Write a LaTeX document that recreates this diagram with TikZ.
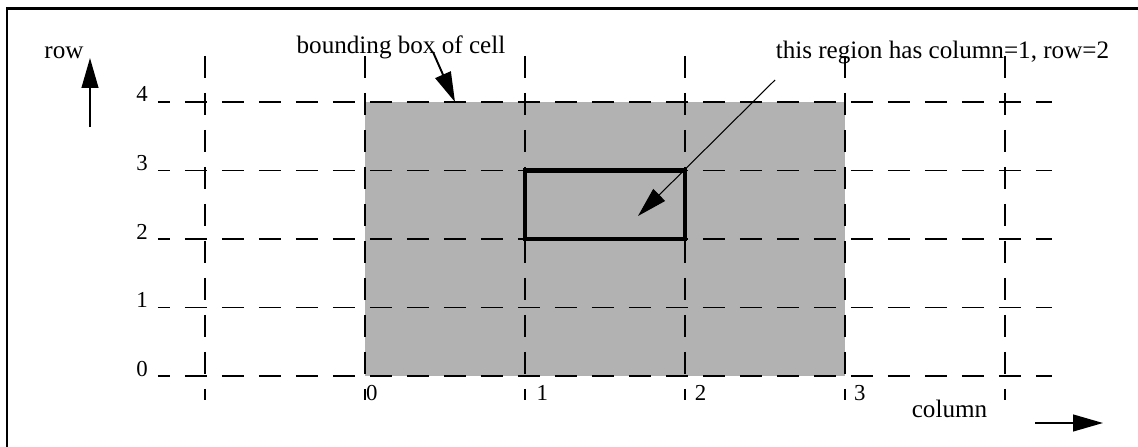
\documentclass[tikz,border=0pt]{standalone}
\usepackage{fontspec}
\setmainfont{Liberation Serif}
\usetikzlibrary{arrows.meta}

\begin{document}
\begin{tikzpicture}[x=3.2cm, y=1.37cm, >={Triangle[length=17pt, width=9.5pt]}]

\definecolor{cellgray}{gray}{0.7}

\tikzset{
  gridline/.style={line width=1.1pt, dash pattern=on 0.44cm off 0.3cm},
  txt/.style={font=\fontsize{14.3}{17}\selectfont, inner sep=0pt},
  num/.style={font=\fontsize{13}{15}\selectfont, inner sep=0pt}
}

\useasboundingbox (-2.28125, -1.0219) rectangle (4.83125, 5.4891);

% frame
\draw[line width=1.7pt] (-2.2375, -1.2) -- (-2.2375, 5.368) -- (5.0, 5.368);

% bounding box of the cell
\fill[cellgray] (0, 0) rectangle (3, 4);

% grid
\foreach \r in {0,...,4}
  \draw[gridline, dash phase=0.2cm] (-1.294, \r) -- (4.294, \r);
\foreach \c in {-1,...,4}
  \draw[gridline] (\c, 4.672) -- (\c, -0.35);

% region column=1, row=2
\draw[line width=2.5pt] (1, 2) rectangle (2, 3);

% row numbers
\foreach \r in {0,...,4}
  \node[num, anchor=base east] (row\r) at (-1.356, \r) {\r};

% column numbers
\node[num, anchor=north west] (col0) at (0.005, -0.131) {0};
\node[num, anchor=north west] (col1) at (1.07, -0.131) {1};
\node[num, anchor=north west] (col2) at (2.06, -0.131) {2};
\node[num, anchor=north west] (col3) at (3.055, -0.131) {3};

% axes
\node[txt, anchor=base] (rowlabel) at (-1.881, 4.642) {row};
\coordinate (rowtail) at (-1.71875, 3.635);
\coordinate (rowtip) at (-1.71875, 4.642);
\draw[->, line width=1.1pt] (rowtail) -- (rowtip);

\node[txt, anchor=base] (collabel) at (3.653, -0.5985) {column};
\coordinate (coltail) at (4.1875, -0.686);
\coordinate (coltip) at (4.6125, -0.686);
\draw[->, line width=1.1pt] (coltail) -- (coltip);

% callouts
\node[txt, anchor=base] (bblabel) at (0.225, 4.701) {bounding box of cell};
\coordinate (bbtail) at (0.425, 4.73);
\coordinate (bbtip) at (0.5625, 4.0);
\draw[->, line width=1.1pt] (bbtail) -- (bbtip);

\node[txt, anchor=base] (reglabel) at (3.609, 4.642) {this region has column=1, row=2};
\coordinate (regtail) at (2.5625, 4.321);
\coordinate (regtip) at (1.70625, 2.336);
\draw[->, line width=0.6pt] (regtail) -- (regtip);

\end{tikzpicture}
\end{document}
